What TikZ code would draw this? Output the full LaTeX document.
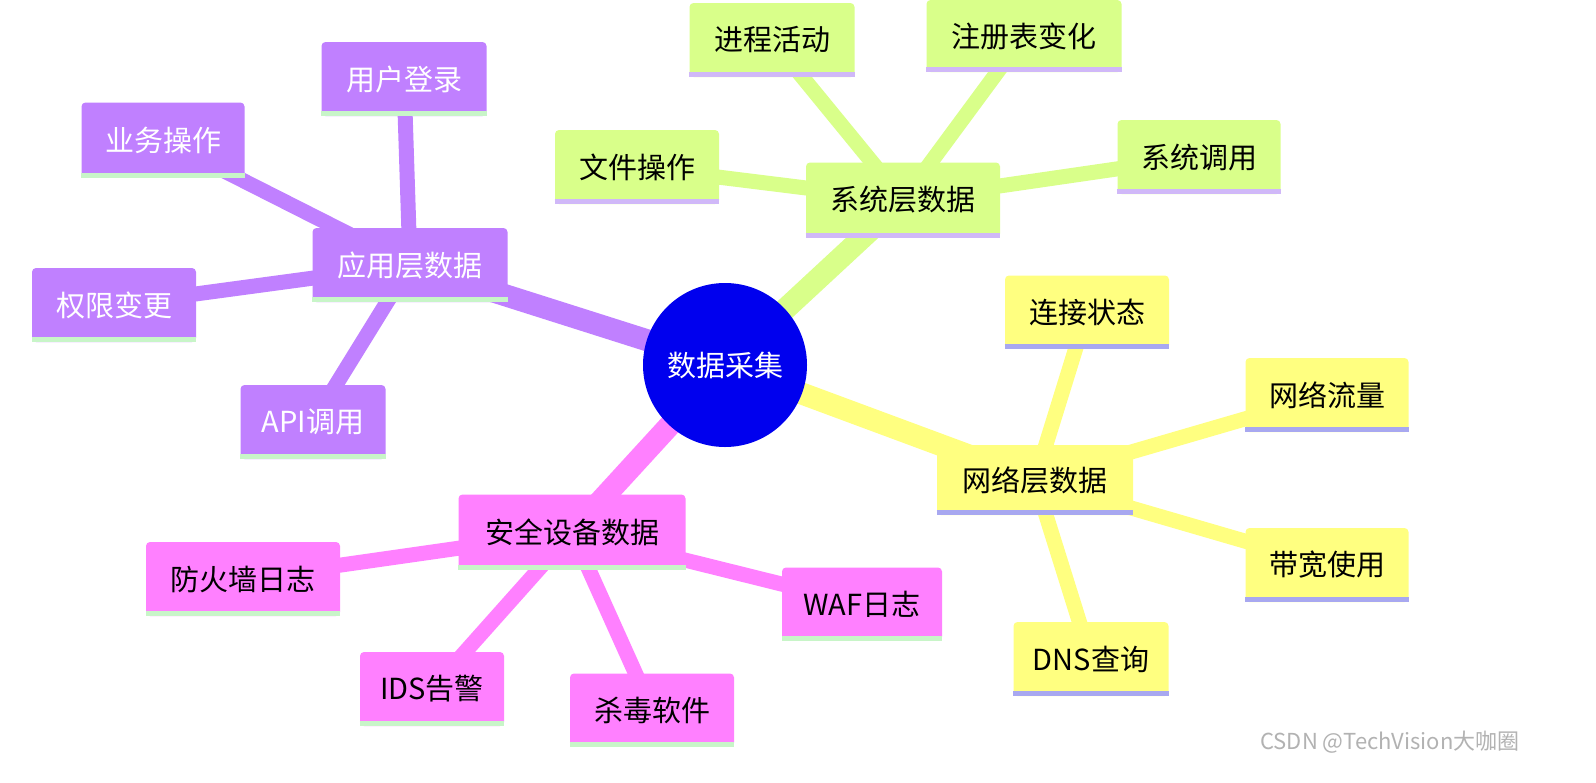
\documentclass[tikz,border=0pt]{standalone}
\usepackage{fontspec}
\setmainfont{Noto Sans CJK SC}
\definecolor{cg}{HTML}{D9FF8A}
\definecolor{cp}{HTML}{C080FF}
\definecolor{cy}{HTML}{FFFF80}
\definecolor{ck}{HTML}{FF80FF}
\definecolor{bg}{HTML}{D0B8F8}
\definecolor{bp}{HTML}{C8F5C8}
\definecolor{by}{HTML}{A8A8F0}
\definecolor{cb}{HTML}{0000EE}
\tikzset{
 box/.style={rounded corners=4pt, inner sep=0pt, font=\fontsize{29}{32}\selectfont},
 main/.style={line width=22pt},
 sub/.style={line width=15pt},
}
\newcommand{\bx}[9]{%
 \node[box, fill=#6, text=#9, minimum width=#4pt, minimum height=#5pt] (#1) at (#2,#3) {#8};
 \draw[#7, line width=5pt] ([yshift=2.5pt]#1.south west) -- ([yshift=2.5pt]#1.south east);}
\begin{document}
\begin{tikzpicture}[x=1pt,y=-1pt]
\fill[white] (0,0) rectangle (1596,782);
\coordinate (C) at (725,365);
\coordinate (S) at (903,200); \coordinate (A) at (410,265);
\coordinate (N) at (1035,480); \coordinate (K) at (572,532);
\draw[main,cg] (C) -- (S); \draw[main,cp] (C) -- (A);
\draw[main,cy] (C) -- (N); \draw[main,ck] (C) -- (K);
\coordinate (s1) at (772,40); \coordinate (s2) at (1024,36); \coordinate (s3) at (637,167); \coordinate (s4) at (1199,157);
\coordinate (a1) at (404,79); \coordinate (a2) at (163,140); \coordinate (a3) at (114,305); \coordinate (a4) at (313,422);
\coordinate (n1) at (1087,312); \coordinate (n2) at (1327,395); \coordinate (n3) at (1327,565); \coordinate (n4) at (1091,659);
\coordinate (k1) at (243,579); \coordinate (k2) at (862,604); \coordinate (k3) at (432,689); \coordinate (k4) at (652,710);
\foreach \c in {s1,s2,s3,s4} \draw[sub,cg] (S) -- (\c);
\foreach \c in {a1,a2,a3,a4} \draw[sub,cp] (A) -- (\c);
\foreach \c in {n1,n2,n3,n4} \draw[sub,cy] (N) -- (\c);
\foreach \c in {k1,k2,k3,k4} \draw[sub,ck] (K) -- (\c);
\node[circle, fill=cb, minimum size=164pt, text=white, font=\fontsize{29}{32}\selectfont] (c) at (C) {数据采集};
\bx{sys}{903}{200}{194}{75}{cg}{bg}{系统层数据}{black}
\bx{p1}{772}{40}{165}{74}{cg}{bg}{进程活动}{black}
\bx{p2}{1024}{36}{195}{72}{cg}{bg}{注册表变化}{black}
\bx{p3}{637}{167}{164}{74}{cg}{bg}{文件操作}{black}
\bx{p4}{1199}{157}{163}{74}{cg}{bg}{系统调用}{black}
\bx{app}{410}{265}{195}{74}{cp}{bp}{应用层数据}{white}
\bx{q1}{404}{79}{165}{74}{cp}{bp}{用户登录}{white}
\bx{q2}{163}{140}{163}{75}{cp}{bp}{业务操作}{white}
\bx{q3}{114}{305}{164}{74}{cp}{bp}{权限变更}{white}
\bx{q4}{313}{422}{145}{74}{cp}{bp}{API调用}{white}
\bx{net}{1035}{480}{196}{70}{cy}{by}{网络层数据}{black}
\bx{r1}{1087}{312}{164}{73}{cy}{by}{连接状态}{black}
\bx{r2}{1327}{395}{163}{74}{cy}{by}{网络流量}{black}
\bx{r3}{1327}{565}{163}{74}{cy}{by}{带宽使用}{black}
\bx{r4}{1091}{659}{155}{74}{cy}{by}{DNS查询}{black}
\bx{sec}{572}{532}{227}{75}{ck}{bp}{安全设备数据}{black}
\bx{t1}{243}{579}{194}{74}{ck}{bp}{防火墙日志}{black}
\bx{t2}{862}{604}{160}{73}{ck}{bp}{WAF日志}{black}
\bx{t3}{432}{689}{144}{74}{ck}{bp}{IDS告警}{black}
\bx{t4}{652}{710}{164}{73}{ck}{bp}{杀毒软件}{black}
\node[text=gray!60, font=\fontsize{22}{24}\selectfont] (wm) at (1390,742) {CSDN @TechVision大咖圈};
\useasboundingbox (0,0) rectangle (1596,782);
\end{tikzpicture}
\end{document}
